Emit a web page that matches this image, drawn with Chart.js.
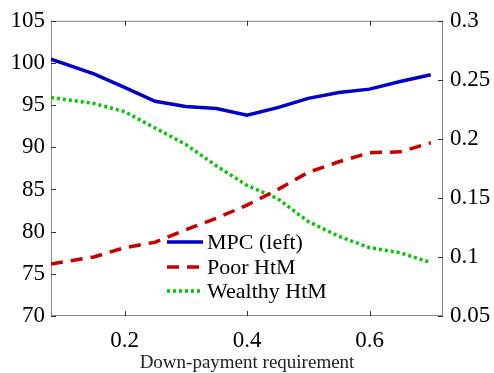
<!DOCTYPE html>
<html>
<head>
<meta charset="utf-8">
<script src="https://cdn.jsdelivr.net/npm/chart.js@4.4.1/dist/chart.umd.min.js"></script>
<style>
  html, body { margin: 0; padding: 0; background: #fff; }
  #wrap { width: 494px; height: 373px; }
</style>
</head>
<body>
<div id="wrap"><canvas id="chart"></canvas></div>
<script>
// --- data ---
const downPayment = [0.08, 0.15, 0.2, 0.25, 0.3, 0.35, 0.4, 0.45, 0.5, 0.55, 0.6, 0.65, 0.7];
const mpcLeft     = [100.45, 98.7, 97.1, 95.45, 94.85, 94.6, 93.8, 94.7, 95.8, 96.5, 96.9, 97.8, 98.6];
const poorHtM     = [0.094, 0.1, 0.1078, 0.1125, 0.123, 0.1328, 0.1439, 0.157, 0.1717, 0.1806, 0.1883, 0.189, 0.1967];
const wealthyHtM  = [0.235, 0.23, 0.2231, 0.2092, 0.1953, 0.1772, 0.1606, 0.1494, 0.13, 0.1175, 0.1078, 0.1036, 0.0953];

const xTicks      = [0.2, 0.4, 0.6];
const leftTicks   = [70, 75, 80, 85, 90, 95, 100, 105];
const rightTicks  = [0.05, 0.1, 0.15, 0.2, 0.25, 0.3];
const rightLabels = ['0.05', '0.1', '0.15', '0.2', '0.25', '0.3'];
const seriesNames = ['MPC (left)', 'Poor HtM', 'Wealthy HtM'];

const FONT = '"Liberation Serif", "Times New Roman", serif';
const AXIS_COLOR = '#8a8a8a';

const toPoints = (ys) => ys.map((y, i) => ({ x: downPayment[i], y }));

// box + inward tick marks, MATLAB style
const framePlugin = {
  id: 'frame',
  beforeDatasetsDraw(chart) {
    const { ctx, chartArea: a, scales } = chart;
    const len = 5;
    ctx.save();
    ctx.strokeStyle = AXIS_COLOR;
    ctx.lineWidth = 1;
    ctx.strokeRect(a.left + 0.5, a.top + 0.5, a.right - a.left - 1, a.bottom - a.top - 1);
    ctx.strokeStyle = '#333';
    ctx.beginPath();
    xTicks.forEach(v => {
      const px = Math.round(scales.x.getPixelForValue(v)) + 0.5;
      ctx.moveTo(px, a.bottom); ctx.lineTo(px, a.bottom - len);
      ctx.moveTo(px, a.top); ctx.lineTo(px, a.top + len);
    });
    leftTicks.forEach(v => {
      const py = Math.round(scales.yL.getPixelForValue(v)) + 0.5;
      ctx.moveTo(a.left, py); ctx.lineTo(a.left + len, py);
    });
    rightTicks.forEach(v => {
      const py = Math.round(scales.yR.getPixelForValue(v)) + 0.5;
      ctx.moveTo(a.right, py); ctx.lineTo(a.right - len, py);
    });
    ctx.stroke();
    ctx.restore();
  }
};

// legend drawn inside the plot area
const insideLegend = {
  id: 'insideLegend',
  afterDatasetsDraw(chart) {
    const { ctx } = chart;
    const x0 = 167, x1 = 203, tx = 207;
    const rows = [242, 267, 291];
    ctx.save();
    ctx.font = '22px ' + FONT;
    ctx.textBaseline = 'middle';
    ctx.textAlign = 'left';
    chart.data.datasets.forEach((ds, i) => {
      ctx.strokeStyle = ds.borderColor;
      ctx.lineWidth = ds.borderWidth;
      ctx.setLineDash(ds.borderDash || []);
      ctx.beginPath();
      ctx.moveTo(x0, rows[i]);
      ctx.lineTo(x1, rows[i]);
      ctx.stroke();
      ctx.setLineDash([]);
      ctx.fillStyle = '#000';
      ctx.fillText(ds.label, tx, rows[i] + 1);
    });
    ctx.restore();
  }
};

new Chart(document.getElementById('chart'), {
  type: 'line',
  data: {
    datasets: [
      { label: seriesNames[0], data: toPoints(mpcLeft), yAxisID: 'yL',
        borderColor: '#0000c8', borderWidth: 3.5, pointRadius: 0, tension: 0 },
      { label: seriesNames[1], data: toPoints(poorHtM), yAxisID: 'yR',
        borderColor: '#c80000', borderWidth: 3.5, borderDash: [12, 8], pointRadius: 0, tension: 0 },
      { label: seriesNames[2], data: toPoints(wealthyHtM), yAxisID: 'yR',
        borderColor: '#00c800', borderWidth: 3.5, borderDash: [3, 3], pointRadius: 0, tension: 0 }
    ]
  },
  options: {
    responsive: true,
    maintainAspectRatio: false,
    animation: false,
    layout: { padding: { top: 16, left: 0, right: 0, bottom: 0 } },
    plugins: { legend: { display: false }, tooltip: { enabled: false } },
    scales: {
      x: {
        type: 'linear', min: 0.08, max: 0.72,
        afterBuildTicks: s => { s.ticks = xTicks.map(v => ({ value: v })); },
        afterFit: s => { s.height = 57; },
        grid: { display: false, drawTicks: false },
        border: { display: false },
        ticks: { color: '#000', font: { family: FONT, size: 23 }, padding: 11, maxRotation: 0,
                 callback: v => String(v) },
        title: { display: true, text: 'Down-payment requirement', color: '#222',
                 font: { family: FONT, size: 19, lineHeight: 1 }, padding: { top: 0, bottom: 0 } }
      },
      yL: {
        type: 'linear', position: 'left', min: 70, max: 105,
        afterBuildTicks: s => { s.ticks = leftTicks.map(v => ({ value: v })); },
        afterFit: s => { s.width = 51; },
        grid: { display: false, drawTicks: false },
        border: { display: false },
        ticks: { color: '#000', font: { family: FONT, size: 23 }, padding: 6 }
      },
      yR: {
        type: 'linear', position: 'right', min: 0.05, max: 0.3,
        afterBuildTicks: s => { s.ticks = rightTicks.map(v => ({ value: v })); },
        afterFit: s => { s.width = 51; },
        grid: { display: false, drawTicks: false },
        border: { display: false },
        ticks: { color: '#000', font: { family: FONT, size: 23 }, padding: 7,
                 callback: (v, i) => rightLabels[i] }
      }
    }
  },
  plugins: [framePlugin, insideLegend]
});
</script>
</body>
</html>
